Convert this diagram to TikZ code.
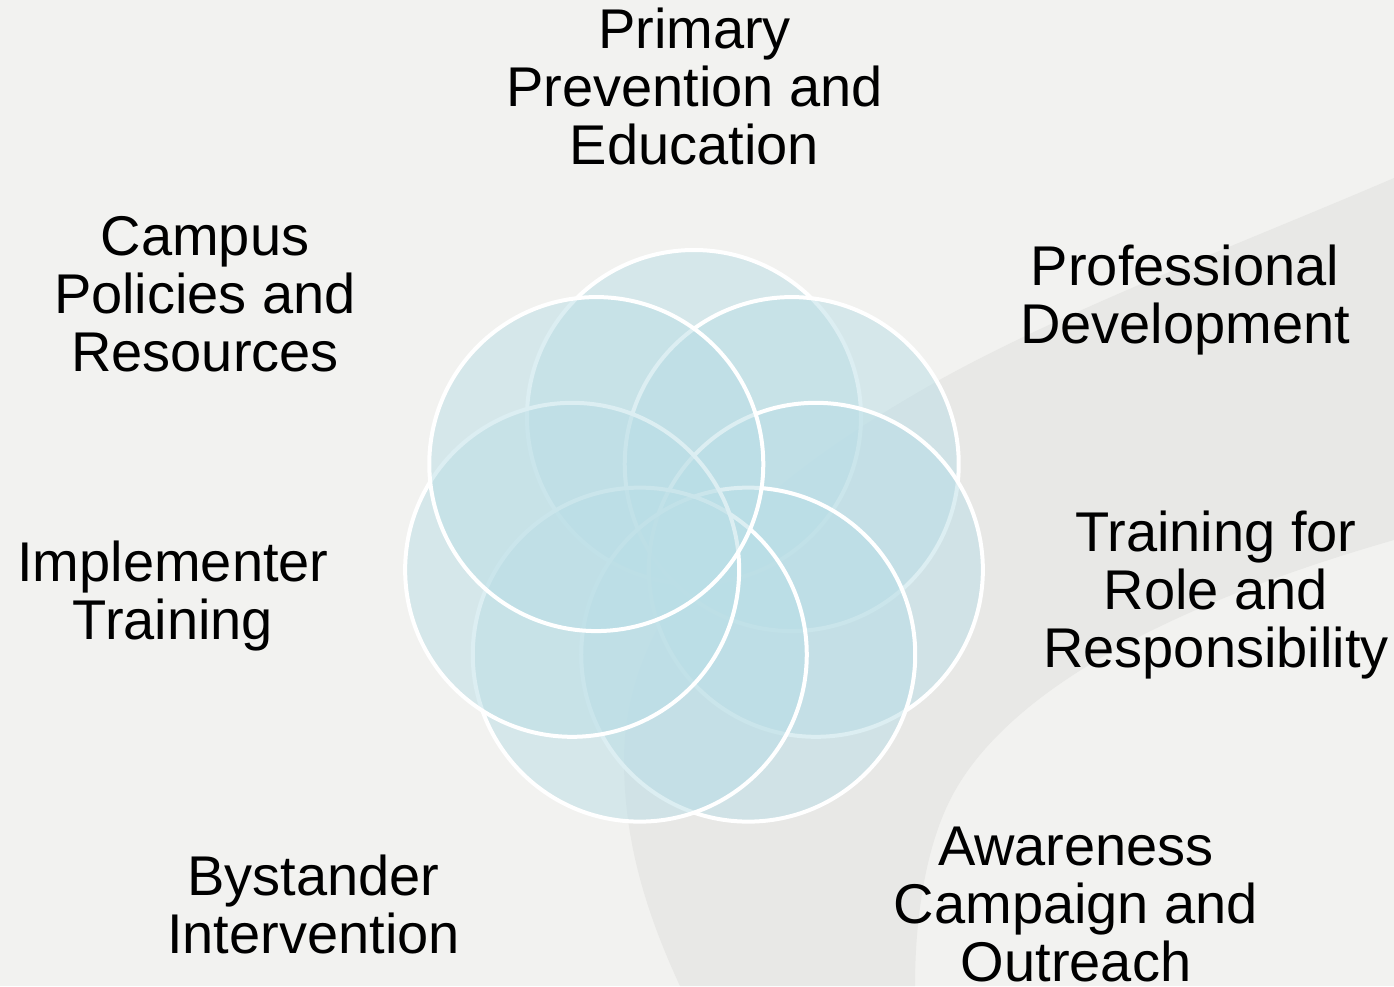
\documentclass[tikz,border=0pt]{standalone}
\usepackage{fontspec}
\setmainfont{Liberation Sans}
\definecolor{bgc}{RGB}{242,242,240}
\definecolor{bandc}{RGB}{232,232,230}
\definecolor{petalblue}{RGB}{186,222,230}
\begin{document}
\begin{tikzpicture}[x=1pt,y=1pt,
  lbl/.style={inner sep=0pt, outer sep=0pt, anchor=base, text=black,
    font=\fontsize{56}{58}\selectfont},
  petal/.style={circle, minimum size=334pt, inner sep=0pt, outer sep=0pt,
    draw=white, line width=4pt, fill=petalblue, fill opacity=0.5}]
% background
\fill[bgc] (0,0) rectangle (1394,-986);
\useasboundingbox (0,0) rectangle (1394,-986);
\fill[bandc] (680,-986) .. controls (640,-900) and (624,-830) .. (624,-760)
  .. controls (624,-580) and (800,-460) .. (927,-387)
  .. controls (1054,-314) and (1250,-240) .. (1394,-178)
  -- (1394,-540)
  .. controls (1150,-610) and (1000,-700) .. (950,-800)
  .. controls (925,-850) and (915,-920) .. (915,-986) -- cycle;
% petals
\foreach \i in {0,...,6}{
  \node[petal] (c\i) at ({694+125*cos(90-\i*360/7)},{-542+125*sin(90-\i*360/7)}) {};
}
% labels
\node[lbl] (primary) at (694.5,-48.3) {\begin{tabular}[t]{@{}c@{}}Primary\\Prevention and\\Education\end{tabular}};
\node[lbl] (campus) at (205,-255) {\begin{tabular}[t]{@{}c@{}}Campus\\Policies and\\Resources\end{tabular}};
\node[lbl] (prof) at (1185,-285) {\begin{tabular}[t]{@{}c@{}}Professional\\Development\end{tabular}};
\node[lbl] (role) at (1216,-551.7) {\begin{tabular}[t]{@{}c@{}}Training for\\Role and\\Responsibility\end{tabular}};
\node[lbl] (impl) at (173,-581) {\begin{tabular}[t]{@{}c@{}}Implementer\\Training\end{tabular}};
\node[lbl] (aware) at (1076,-865) {\begin{tabular}[t]{@{}c@{}}Awareness\\Campaign and\\Outreach\end{tabular}};
\node[lbl] (bystander) at (313.5,-895) {\begin{tabular}[t]{@{}c@{}}Bystander\\Intervention\end{tabular}};
\end{tikzpicture}
\end{document}
